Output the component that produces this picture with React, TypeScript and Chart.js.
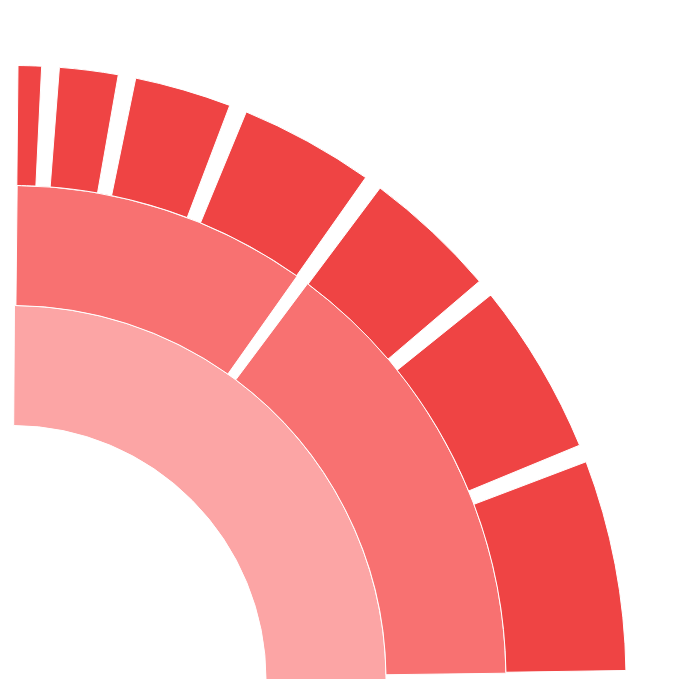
import React, { useEffect, useRef } from "react";
import { Chart, registerables } from "chart.js";

Chart.register(...registerables);

// Hierarchical data: inner ring = total, middle ring = two groups, outer ring = leaves
const innerLabels = ["Total"];
const innerValues = [100];

const middleLabels = ["Group A", "Group B"];
const middleValues = [40, 60];

const outerLabels = ["A1", "A2", "A3", "A4", "B1", "B2", "B3"];
const outerValues = [4, 8, 12, 16, 16, 20, 24];

const outerColor = "#ef4444";
const middleColor = "#f87171";
const innerColor = "#fca5a5";

// angular padding (degrees) per ring (outer, middle, inner): [ring start, between arcs (per side), ring end]
const ringPadDeg = [
  [0.56, 0.83, 0.84],
  [0.6, 0.75, 0.73],
  [0.38, 0, 0],
];

const ringPadPlugin = {
  id: "ringPad",
  afterDatasetsUpdate(chart: any) {
    chart.data.datasets.forEach((_ds: any, i: number) => {
      const meta = chart.getDatasetMeta(i);
      const [ps, pm, pe] = (ringPadDeg[i] || [0, 0, 0]).map((d) => (d * Math.PI) / 180);
      const n = meta.data.length;
      meta.data.forEach((arc: any, j: number) => {
        arc.startAngle += j === 0 ? ps : pm;
        arc.endAngle -= j === n - 1 ? pe : pm;
        arc.circumference = arc.endAngle - arc.startAngle;
      });
    });
  },
};

export default function App() {
  const ref = useRef<HTMLCanvasElement | null>(null);

  useEffect(() => {
    if (!ref.current) return;
    const chart = new Chart(ref.current, {
      type: "doughnut",
      data: {
        labels: outerLabels,
        datasets: [
          {
            label: "Leaves",
            data: outerValues,
            backgroundColor: outerColor,
            borderColor: "#ffffff",
            borderWidth: 1,
          },
          {
            label: "Groups",
            data: middleValues,
            backgroundColor: middleColor,
            borderColor: "#ffffff",
            borderWidth: 1,
          },
          {
            label: "Total",
            data: innerValues,
            backgroundColor: innerColor,
            borderColor: "#ffffff",
            borderWidth: 1,
          },
        ],
      },
      options: {
        animation: false,
        responsive: true,
        maintainAspectRatio: false,
        rotation: 0,
        circumference: 90,
        cutout: "41.37%",
        events: [],
        layout: { padding: { left: 3.5, top: 57, right: 54.5, bottom: 10 } },
        plugins: {
          legend: { display: false },
          tooltip: { enabled: false },
        },
      },
      plugins: [ringPadPlugin],
    });
    return () => chart.destroy();
  }, []);

  return (
    <div style={{ position: "relative", width: 673, height: 682 }}>
      <canvas ref={ref} />
    </div>
  );
}
